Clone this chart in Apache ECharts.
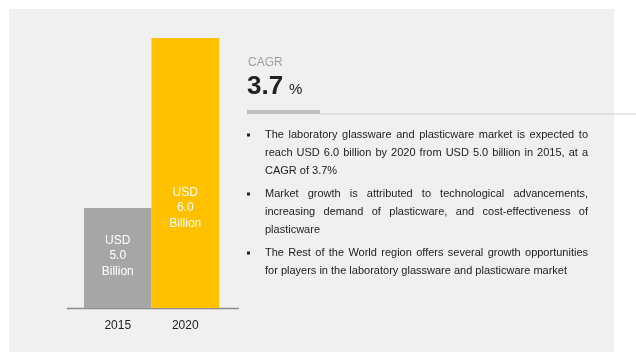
<!DOCTYPE html>
<html>
<head>
<meta charset="utf-8">
<script src="https://cdn.jsdelivr.net/npm/echarts@6/dist/echarts.min.js"></script>
<style>
html,body{margin:0;padding:0;background:#fff;}
#c{width:636px;height:360px;}
</style>
</head>
<body>
<div id="c"></div>
<script>
const categories = ['2015', '2020'];
const values = [5.0, 6.0];
const barLabels = ['USD\n5.0\nBillion', 'USD\n6.0\nBillion'];
const cagrTitle = 'CAGR';
const cagrValue = '3.7';
const bullets = [
  ['The laboratory glassware and plasticware market is expected to',
   'reach USD 6.0 billion by 2020 from USD 5.0 billion in 2015, at a',
   'CAGR of 3.7%'],
  ['Market growth is attributed to technological advancements,',
   'increasing demand of plasticware, and cost-effectiveness of',
   'plasticware'],
  ['The Rest of the World region offers several growth opportunities',
   'for players in the laboratory glassware and plasticware market']
];

const FONT = 'Liberation Sans';
const chart = echarts.init(document.getElementById('c'));

// text measuring for justified bullet lines
const cv = document.createElement('canvas').getContext('2d');
const txtSize = 11;
cv.font = txtSize + 'px "' + FONT + '"';

const graphics = [];
graphics.push({ type: 'rect', z: -10, shape: { x: 9, y: 9, width: 605, height: 343 }, style: { fill: '#f0f0f0' } });
// axis base line
graphics.push({ type: 'line', shape: { x1: 67, y1: 308.5, x2: 239, y2: 308.5 }, style: { stroke: '#8c8c8c', lineWidth: 1.5 } });
// CAGR block
graphics.push({ type: 'text', x: 248, y: 63, style: { text: cagrTitle, fill: '#a0a0a0', font: '12px "' + FONT + '"', verticalAlign: 'middle' } });
graphics.push({ type: 'text', x: 247, y: 87, style: { text: cagrValue, fill: '#222', font: 'bold 26px "' + FONT + '"', verticalAlign: 'middle' } });
graphics.push({ type: 'text', x: 289, y: 90, style: { text: '%', fill: '#222', font: '15px "' + FONT + '"', verticalAlign: 'middle' } });
graphics.push({ type: 'line', shape: { x1: 320, y1: 114, x2: 636, y2: 114 }, style: { stroke: '#cfcfcf', lineWidth: 1 } });
graphics.push({ type: 'rect', shape: { x: 247, y: 110, width: 73, height: 4 }, style: { fill: '#c0c0c0' } });

const lineYs = [[135, 153, 171], [194, 212, 230], [253, 271]];
const textLeft = 265, textRight = 588;
bullets.forEach((para, pi) => {
  graphics.push({ type: 'rect', shape: { x: 247, y: lineYs[pi][0] - 1.5, width: 3, height: 3 }, style: { fill: '#222' } });
  para.forEach((line, li) => {
    const y = lineYs[pi][li];
    const isLast = li === para.length - 1;
    if (isLast) {
      graphics.push({ type: 'text', x: textLeft, y: y, style: { text: line, fill: '#222', font: txtSize + 'px "' + FONT + '"', verticalAlign: 'middle' } });
    } else {
      const words = line.split(' ');
      const widths = words.map(w => cv.measureText(w).width);
      const total = widths.reduce((a, b) => a + b, 0);
      const gap = (textRight - textLeft - total) / (words.length - 1);
      let x = textLeft;
      words.forEach((w, wi) => {
        graphics.push({ type: 'text', x: x, y: y, style: { text: w, fill: '#222', font: txtSize + 'px "' + FONT + '"', verticalAlign: 'middle' } });
        x += widths[wi] + gap;
      });
    }
  });
});

const barColors = ['#a6a6a6', '#ffc000'];
const labelOffsets = [[0, -2], [0, 35]];

chart.setOption({
  animation: false,
  grid: { left: 84, right: 417, top: 38, bottom: 52 },
  xAxis: {
    type: 'category',
    data: categories,
    axisLine: { show: false },
    axisTick: { show: false },
    axisLabel: { color: '#222', fontSize: 12, fontFamily: FONT, margin: 12 }
  },
  yAxis: {
    type: 'value',
    min: 5 - 100 / 170,
    max: 6,
    show: false,
    splitLine: { show: false }
  },
  graphic: graphics,
  series: [{
    type: 'bar',
    barCategoryGap: 0,
    data: values.map((v, i) => ({
      value: v,
      itemStyle: { color: barColors[i] },
      label: {
        show: true,
        position: 'inside',
        offset: labelOffsets[i],
        formatter: barLabels[i],
        color: '#fff',
        fontSize: 12,
        lineHeight: 15.5,
        fontFamily: FONT,
        align: 'center'
      }
    }))
  }]
});
</script>
</body>
</html>
